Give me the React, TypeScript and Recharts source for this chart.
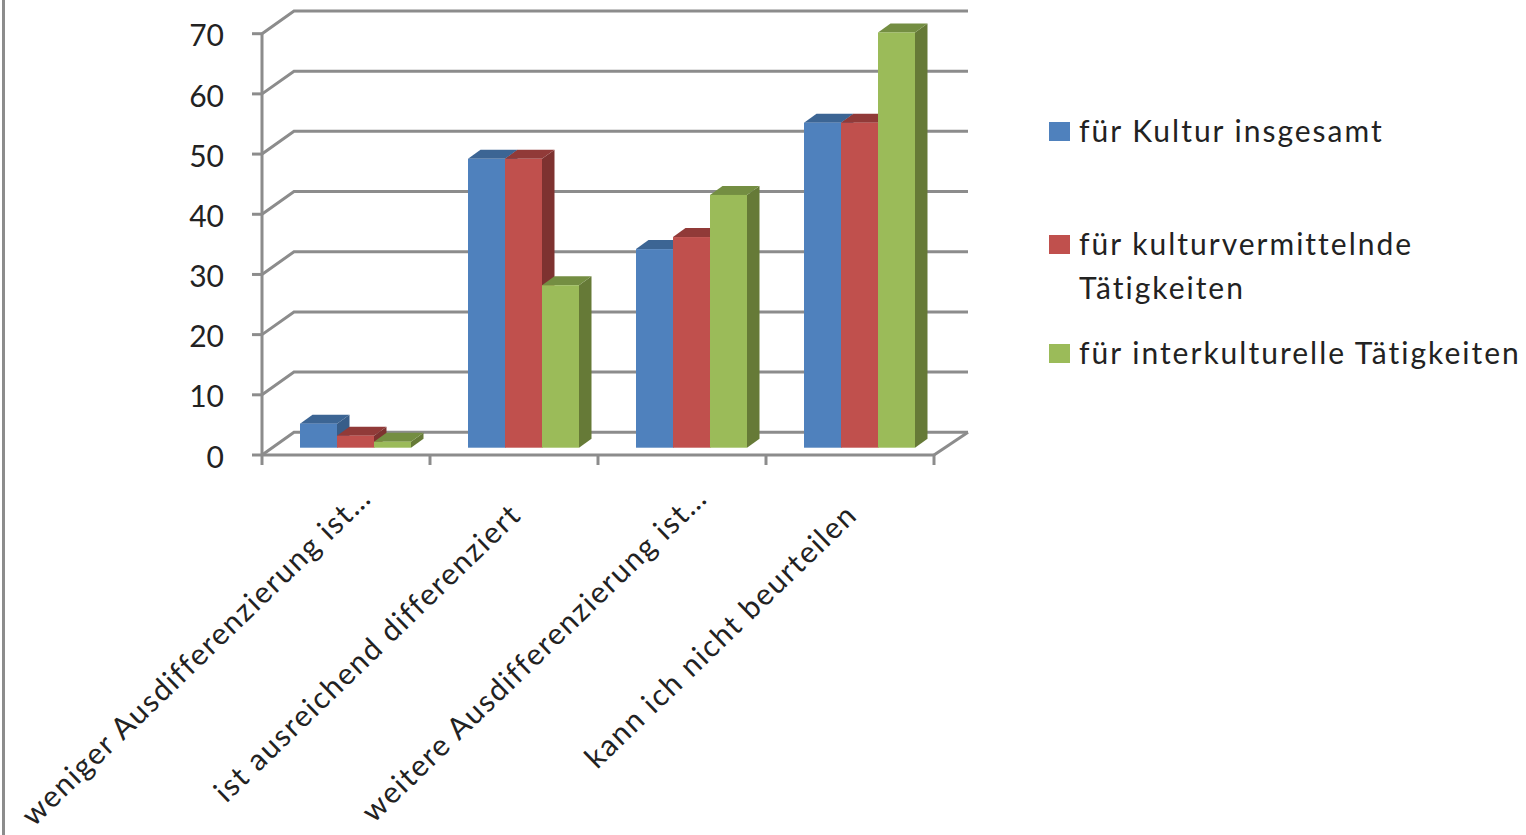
import React from "react";
import { Bar, BarChart, CartesianGrid, Legend, XAxis, YAxis } from "recharts";

const categories = [
  "weniger Ausdifferenzierung ist…",
  "ist ausreichend differenziert",
  "weitere Ausdifferenzierung ist…",
  "kann ich nicht beurteilen",
];
const kulturInsgesamt = [4, 48, 33, 54];
const kulturvermittelnd = [2, 48, 35, 54];
const interkulturell = [1, 27, 42, 69];
const valueTicks = [0, 10, 20, 30, 40, 50, 60, 70];

const chartData = categories.map((name, i) => ({
  name,
  kultur: kulturInsgesamt[i],
  vermittelnd: kulturvermittelnd[i],
  inter: interkulturell[i],
}));

const WIDTH = 1526;
const HEIGHT = 835;
const PLOT_LEFT = 262;
const PLOT_RIGHT = 934;
const PLOT_TOP = 33.7;
const PLOT_BOTTOM = 455;

const FONT = "Lato, sans-serif";
const FONT_SIZE = 30;
const LEGEND_SPACING = 2;
const LABEL_SPACING = 1.6;
const TEXT_COLOR = "#222222";
const FRAME_COLOR = "#8c8c8c";

// pseudo 3D: depth of the back wall and of the bars
const WALL_DX = 32;
const WALL_DY = -22.7;
const WALL_RIGHT_EXTRA = 2;
const BAR_OFFSET_X = 10;
const BAR_OFFSET_Y = -7.3;
const BAR_DEPTH_X = 12.5;
const BAR_DEPTH_Y = -9;

// Draws one horizontal grid level: left wall diagonal plus the back wall line
function WallLine(props: any) {
  const { x1, x2, y1 } = props;
  const backX = x1 + WALL_DX;
  const backY = y1 + WALL_DY;
  const backRight = x2 + WALL_DX + WALL_RIGHT_EXTRA;
  const isFloor = y1 >= PLOT_BOTTOM - 1;
  return (
    <g fill="none" stroke={FRAME_COLOR} strokeWidth={3}>
      <polyline points={`${x1},${y1} ${backX},${backY} ${backRight},${backY}`} />
      {isFloor && <line x1={x2} y1={y1} x2={backRight} y2={backY} />}
    </g>
  );
}

// Bar with front face, top and side faces
function Bar3D(props: any) {
  const { x, y, width, height, fill, topFill, sideFill } = props;
  const left = x + BAR_OFFSET_X;
  const top = y + BAR_OFFSET_Y;
  const right = left + width;
  const bottom = top + height;
  const dx = BAR_DEPTH_X;
  const dy = BAR_DEPTH_Y;
  return (
    <g>
      <polygon
        points={`${right},${top} ${right + dx},${top + dy} ${right + dx},${bottom + dy} ${right},${bottom}`}
        fill={sideFill}
      />
      <polygon
        points={`${left},${top} ${left + dx},${top + dy} ${right + dx},${top + dy} ${right},${top}`}
        fill={topFill}
      />
      <rect x={left} y={top} width={width} height={height} fill={fill} />
    </g>
  );
}

// Rotated category label plus the tick marks on the band boundaries
function CategoryTick(props: any) {
  const { x, payload, index } = props;
  const half = payload.offset ?? (PLOT_RIGHT - PLOT_LEFT) / categories.length / 2;
  const isLast = index === categories.length - 1;
  // shortened labels sit a little further along the slant
  const shortened = String(payload.value).endsWith("…");
  const labelX = x + (shortened ? 27 : 9);
  const labelY = PLOT_BOTTOM + (shortened ? 45 : 62);
  return (
    <g>
      <line x1={x - half} y1={PLOT_BOTTOM} x2={x - half} y2={PLOT_BOTTOM + 10} stroke={FRAME_COLOR} strokeWidth={3} />
      {isLast && (
        <line x1={x + half} y1={PLOT_BOTTOM} x2={x + half} y2={PLOT_BOTTOM + 10} stroke={FRAME_COLOR} strokeWidth={3} />
      )}
      <text
        x={labelX}
        y={labelY}
        textAnchor="end"
        fontFamily={FONT}
        fontSize={FONT_SIZE}
        letterSpacing={LABEL_SPACING}
        fill={TEXT_COLOR}
        transform={`rotate(-44 ${labelX} ${labelY})`}
      >
        {payload.value}
      </text>
    </g>
  );
}

const legendRowTops = [0, 113, 222];

function ChartLegend({ payload }: any) {
  return (
    <div
      style={{
        position: "relative",
        width: 477,
        height: 270,
        fontFamily: FONT,
        fontSize: FONT_SIZE,
        letterSpacing: LEGEND_SPACING,
        color: TEXT_COLOR,
      }}
    >
      {(payload ?? []).map((entry: any, i: number) => (
        <div key={entry.value} style={{ position: "absolute", left: 0, top: legendRowTops[i], display: "flex", lineHeight: "44px" }}>
          <span style={{ width: 21, height: 19, marginTop: 14, marginRight: 9, background: entry.color, flex: "none" }} />
          <span style={{ width: 445 }}>{entry.value}</span>
        </div>
      ))}
    </div>
  );
}

export default function App() {
  return (
    <div style={{ position: "absolute", left: 0, top: 0, width: WIDTH, height: HEIGHT, background: "#fff", overflow: "hidden" }}>
      <div style={{ position: "absolute", left: 2, top: 0, width: 3, height: HEIGHT, background: FRAME_COLOR }} />
      <BarChart
        width={WIDTH}
        height={HEIGHT}
        data={chartData}
        margin={{ top: PLOT_TOP, right: WIDTH - PLOT_RIGHT, bottom: 0, left: 0 }}
        barCategoryGap="16.67%"
        barGap={0}
      >
        <CartesianGrid vertical={false} horizontal={(p: any) => <WallLine key={p.key} {...p} />} />
        <XAxis
          dataKey="name"
          height={HEIGHT - PLOT_BOTTOM}
          interval={0}
          tick={<CategoryTick />}
          tickLine={false}
          axisLine={{ stroke: FRAME_COLOR, strokeWidth: 3 }}
        />
        <YAxis
          width={PLOT_LEFT}
          domain={[0, 70]}
          ticks={valueTicks}
          interval={0}
          tickSize={10}
          tickMargin={28}
          dy={2}
          tick={{ fontFamily: FONT, fontSize: FONT_SIZE, fill: TEXT_COLOR }}
          tickLine={{ stroke: FRAME_COLOR, strokeWidth: 3 }}
          axisLine={{ stroke: FRAME_COLOR, strokeWidth: 3 }}
        />
        <Legend
          layout="vertical"
          align="center"
          verticalAlign="middle"
          itemSorter={null}
          content={<ChartLegend />}
          wrapperStyle={{ left: 1049, top: 108, width: 477 }}
        />
        <Bar
          dataKey="kultur"
          name="für Kultur insgesamt"
          fill="#4f81bd"
          isAnimationActive={false}
          shape={(p: any) => <Bar3D {...p} fill="#4f81bd" topFill="#3c6594" sideFill="#385d89" />}
        />
        <Bar
          dataKey="vermittelnd"
          name="für kulturvermittelnde Tätigkeiten"
          fill="#c0504d"
          isAnimationActive={false}
          shape={(p: any) => <Bar3D {...p} fill="#c0504d" topFill="#913a38" sideFill="#7e3230" />}
        />
        <Bar
          dataKey="inter"
          name="für interkulturelle Tätigkeiten"
          fill="#9bbb59"
          isAnimationActive={false}
          shape={(p: any) => <Bar3D {...p} fill="#9bbb59" topFill="#748e42" sideFill="#667a37" />}
        />
      </BarChart>
    </div>
  );
}
